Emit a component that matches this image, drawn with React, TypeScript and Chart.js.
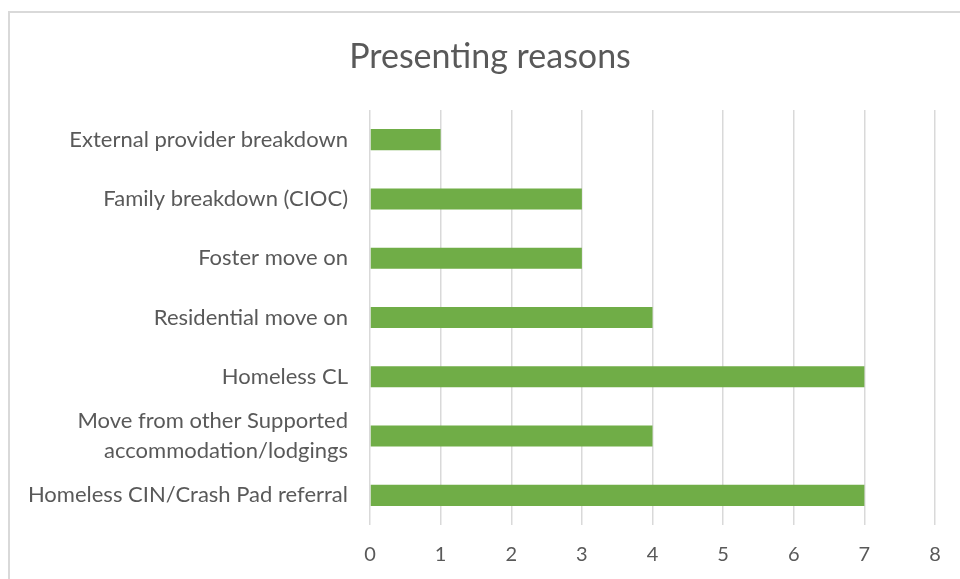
import React, { useEffect, useRef } from "react";
import { Chart, registerables } from "chart.js";

Chart.register(...registerables);

const title = "Presenting reasons";
const categories: (string | string[])[] = [
  "External provider breakdown",
  "Family breakdown (CIOC)",
  "Foster move on",
  "Residential move on",
  "Homeless CL",
  ["Move from other Supported", "accommodation/lodgings"],
  "Homeless CIN/Crash Pad referral",
];
const values = [1, 3, 3, 4, 7, 4, 7];
const xTicksMin = 0;
const xTicksMax = 8;

const FONT = "Lato, 'Open Sans', sans-serif";
const TEXT = "#595959";
const GRID = "#d9d9d9";

const titlePlugin = {
  id: "centeredTitle",
  afterDraw(chart: any) {
    const ctx = chart.ctx;
    ctx.save();
    ctx.font = `normal 34px ${FONT}`;
    ctx.fillStyle = TEXT;
    ctx.textAlign = "center";
    ctx.textBaseline = "middle";
    ctx.fillText(title, 490, 57);
    ctx.restore();
  },
};

export default function App() {
  const ref = useRef<HTMLCanvasElement | null>(null);
  useEffect(() => {
    if (!ref.current) return;
    const chart = new Chart(ref.current, {
      type: "bar",
      data: {
        labels: categories,
        datasets: [
          {
            data: values,
            backgroundColor: "#70ad47",
            borderWidth: 0,
            categoryPercentage: 1,
            barPercentage: 0.355,
          },
        ],
      },
      options: {
        indexAxis: "y",
        responsive: false,
        animation: false,
        devicePixelRatio: 1,
        layout: { padding: { left: 12, right: 25, top: 110, bottom: 0 } },
        plugins: {
          legend: { display: false },
          tooltip: { enabled: false },
          title: { display: false },
        },
        scales: {
          x: {
            min: xTicksMin,
            max: xTicksMax,
            ticks: {
              stepSize: 1,
              color: TEXT,
              padding: 18,
              font: { family: FONT, size: 20 },
            },
            grid: { color: GRID, lineWidth: 1.5, drawTicks: false },
            border: { display: false },
            afterFit: (scale: any) => {
              scale.height = 54;
            },
          },
          y: {
            ticks: {
              autoSkip: false,
              color: TEXT,
              padding: 22,
              font: { family: FONT, size: 22, lineHeight: 1.36 },
            },
            grid: { display: false, drawTicks: false },
            border: { display: false },
            afterFit: (scale: any) => {
              scale.width = 358;
            },
          },
        },
      },
      plugins: [titlePlugin],
    });
    return () => chart.destroy();
  }, []);
  return (
    <div
      style={{
        position: "fixed",
        left: 0,
        top: 0,
        width: 960,
        height: 579,
        background: "#fff",
        overflow: "hidden",
      }}
    >
      <div
        style={{
          position: "absolute",
          left: 8,
          top: 11,
          width: 980,
          height: 600,
          border: "2px solid #d9d9d9",
        }}
      />
      <canvas
        ref={ref}
        width={960}
        height={579}
        style={{ position: "absolute", left: 0, top: 0, width: 960, height: 579 }}
      />
    </div>
  );
}
